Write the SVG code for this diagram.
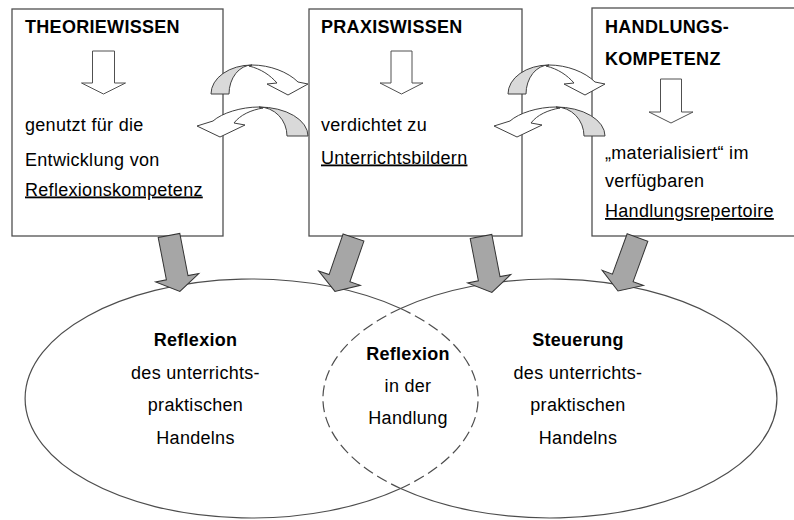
<svg xmlns="http://www.w3.org/2000/svg" xmlns:xlink="http://www.w3.org/1999/xlink" width="794" height="520" viewBox="0 0 794 520">
<style>
.t{font-family:"Liberation Sans",Arial,Helvetica,sans-serif;font-size:18px;letter-spacing:0.3px;fill:#000}
.b{font-weight:bold}
.c{text-anchor:middle}
.u{text-decoration:underline}
.box{fill:#fff;stroke:#505050;stroke-width:1.3}
.hollow{fill:#fff;stroke:#505050;stroke-width:1}
.ell{fill:none;stroke:#4d4d4d;stroke-width:1.2}
.dash{fill:none;stroke:#4d4d4d;stroke-width:1.2;stroke-dasharray:11 5}
.band{fill:#fff;stroke:#404040;stroke-width:1}
.shade{fill:#d9d9d9;stroke:#404040;stroke-width:1}
.blk{fill:#a6a6a6;stroke:#333;stroke-width:1;stroke-linejoin:miter}
</style>
<defs>
<polygon id="blkArrow" class="blk" points="-11,0 11,0 11,43 22,43 0,57 -22,43 -11,43"/>
<g id="curvePair">
<path class="band" d="M252,65 C270,65 288,72 298,82 L308,84 L288,95 L267,84 L277,83 C270,75 261,69 249,66 Z"/>
<path class="shade" d="M211,94 A41,29 0 0 1 252,65 A23,29 0 0 0 229,94 Z"/>
<path class="band" d="M259,107 C241,107 222,113 213,121 L197,126 L220,137 L245,125 L234,123 C240,115 251,110 263,108 Z"/>
<path class="shade" d="M308,136 A49,29 0 0 0 259,107 A28,29 0 0 1 287,136 Z"/>
</g>
</defs>
<rect width="794" height="520" fill="#fff"/>

<g id="ellipse-reflexion">
<path class="ell" d="M400.6,308.5 A226.5,119.5 0 1 0 400.6,488.5"/>
<text class="t b c" x="195.5" y="346">Reflexion</text>
<text class="t c" x="195.5" y="378.5">des unterrichts-</text>
<text class="t c" x="195.5" y="411">praktischen</text>
<text class="t c" x="195.5" y="443.5">Handelns</text>
</g>
<g id="ellipse-steuerung">
<path class="ell" d="M400.6,308.5 A227,119.5 0 1 1 400.6,488.5"/>
<text class="t b c" x="578" y="346">Steuerung</text>
<text class="t c" x="578" y="378.5">des unterrichts-</text>
<text class="t c" x="578" y="411">praktischen</text>
<text class="t c" x="578" y="443.5">Handelns</text>
</g>
<g id="overlap-reflexion-in-der-handlung">
<path class="dash" d="M400.6,308.5 A226.5,119.5 0 0 1 400.6,488.5"/>
<path class="dash" d="M400.6,308.5 A227,119.5 0 0 0 400.6,488.5"/>
<text class="t b c" x="408" y="360">Reflexion</text>
<text class="t c" x="408" y="392">in der</text>
<text class="t c" x="408" y="424">Handlung</text>
</g>

<g id="box-theoriewissen">
<rect class="box" x="12" y="9" width="211" height="227"/>
<text class="t b" x="25" y="32.5">THEORIEWISSEN</text>
<polygon class="hollow" points="92.5,51 114.5,51 114.5,83 125.5,83 103.5,94 81.5,83 92.5,83"/>
<text class="t" x="25" y="131">genutzt für die</text>
<text class="t" x="25" y="165.5">Entwicklung von</text>
<text class="t u" x="25" y="195.5">Reflexionskompetenz</text>
</g>
<g id="box-praxiswissen">
<rect class="box" x="309" y="9" width="213" height="227"/>
<text class="t b" x="321" y="32.5">PRAXISWISSEN</text>
<polygon class="hollow" points="391,51 412,51 412,83 423,83 401.5,94 380,83 391,83"/>
<text class="t" x="321" y="131">verdichtet zu</text>
<text class="t u" x="321" y="163.5">Unterrichtsbildern</text>
</g>
<g id="box-handlungskompetenz">
<rect class="box" x="592" y="8" width="220" height="228"/>
<text class="t b" x="605" y="32.5">HANDLUNGS-</text>
<text class="t b" x="605" y="65">KOMPETENZ</text>
<polygon class="hollow" points="660.5,79 681.5,79 681.5,112 693,112 671,123 649,112 660.5,112"/>
<text class="t" x="605" y="159">„materialisiert“ im</text>
<text class="t" x="605" y="187">verfügbaren</text>
<text class="t u" x="605" y="217">Handlungsrepertoire</text>
</g>

<g id="connectors">
<use xlink:href="#curvePair"/>
<use xlink:href="#curvePair" transform="translate(297,0)"/>
<use xlink:href="#blkArrow" transform="translate(169,235.5) rotate(-11)"/>
<use xlink:href="#blkArrow" transform="translate(353.5,237.5) rotate(19)"/>
<use xlink:href="#blkArrow" transform="translate(481,236.5) rotate(-11)"/>
<use xlink:href="#blkArrow" transform="translate(637.5,237.5) rotate(20)"/>
</g>
</svg>
